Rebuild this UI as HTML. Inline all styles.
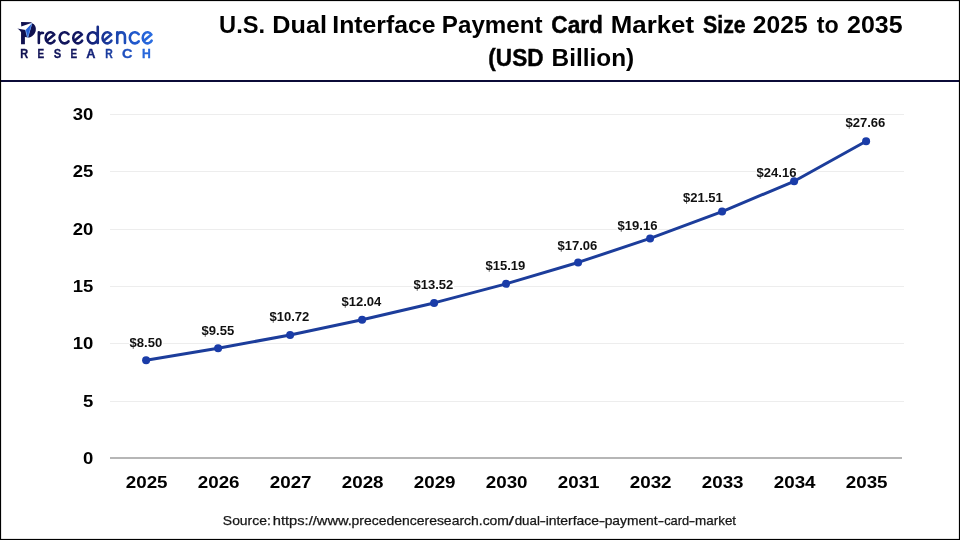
<!DOCTYPE html>
<html lang="en">
<head>
<meta charset="utf-8">
<title>U.S. Dual Interface Payment Card Market Size 2025 to 2035</title>
<style>
html,body{margin:0;padding:0;background:#fff;}
body{width:960px;height:540px;overflow:hidden;font-family:"Liberation Sans",sans-serif;}
svg{display:block;will-change:transform;}
text{font-family:"Liberation Sans",sans-serif;}
</style>
</head>
<body>
<svg width="960" height="540" viewBox="0 0 960 540">
<defs>
<linearGradient id="lg" gradientUnits="userSpaceOnUse" x1="17" y1="0" x2="154" y2="0">
<stop offset="0" stop-color="#101150"/>
<stop offset="0.45" stop-color="#121760"/>
<stop offset="0.55" stop-color="#15247c"/>
<stop offset="0.66" stop-color="#1a3a9c"/>
<stop offset="0.76" stop-color="#1c4ab4"/>
<stop offset="0.86" stop-color="#2058cc"/>
<stop offset="1" stop-color="#2c70e4"/>
</linearGradient>
</defs>
<rect x="0" y="0" width="960" height="540" fill="#ffffff"/>
<rect x="0" y="80" width="960" height="2" fill="#0b0b38"/>
<g id="logo">
<path d="M21.05,22.0 L31.75,22.3 L31.3,23.1 L21.25,26.45 Z" fill="#101150"/>
<path d="M17.2,28.5 L21.5,29.2 L25.6,29.9 L27.4,37.2 L28.0,37.6 L24.9,37.0 L24.9,44.15 L21.05,44.15 L21.05,32.3 C20.4,30.8 19,29.6 17.2,28.5 Z" fill="#101150"/>
<path d="M32.1,23.3 C34.9,24.3 36.3,27.2 35.8,30.2 C35.2,34.2 32,37.4 27.9,37.6 Z" fill="#101150"/>
<path d="M31.9,23.15 L25.55,29.95 L27.4,37.3 L28.0,37.5 L32.15,23.3 Z" fill="#2560d6"/>
<path d="M25.55,29.95 L27.4,37.3" stroke="#7fb0f2" stroke-width="0.7" fill="none"/>
<path d="M31.9,23.2 L27.8,37.3" stroke="#6fa2ee" stroke-width="0.55" fill="none"/>
<path d="M38.85,32.4 L38.85,42.9 M38.85,36.8 C38.9,33.6 40.8,32.4 43.0,33.0 M47.45,40.30 L54.33,34.62 A4.8,5.55 0 1 0 54.56,40.57 M68.52,34.23 A5.05,5.55 0 1 0 68.52,41.37 M75.05,40.30 L81.93,34.62 A4.8,5.55 0 1 0 82.16,40.57 M97.75,26.7 L97.75,42.9 M97.75,37.8 A5.0,5.55 0 1 0 97.75,37.809999999999995 M104.35,40.30 L111.23,34.62 A4.8,5.55 0 1 0 111.46,40.57 M117.25,32.4 L117.25,42.9 M117.25,36.8 C117.25,33.6 119,32.4 121.1,32.4 C123.2,32.4 124.95,33.6 124.95,36.8 L124.95,42.9 M138.72,34.23 A5.05,5.55 0 1 0 138.72,41.37 M144.55,40.30 L151.43,34.62 A4.8,5.55 0 1 0 151.66,40.57" fill="none" stroke="url(#lg)" stroke-width="2.6" stroke-linecap="round" stroke-linejoin="round"/>
<text x="0" y="57.9" font-size="12.2" font-weight="700" text-anchor="middle" fill="#101252" stroke="#101252" stroke-width="0.3" transform="translate(24.2,0) scale(0.9,1)">R</text>
<text x="0" y="57.9" font-size="12.2" font-weight="700" text-anchor="middle" fill="#111356" stroke="#111356" stroke-width="0.3" transform="translate(40.9,0) scale(0.82,1)">E</text>
<text x="0" y="57.9" font-size="12.2" font-weight="700" text-anchor="middle" fill="#11155b" stroke="#11155b" stroke-width="0.3" transform="translate(57.5,0) scale(0.92,1)">S</text>
<text x="0" y="57.9" font-size="12.2" font-weight="700" text-anchor="middle" fill="#12175f" stroke="#12175f" stroke-width="0.3" transform="translate(73.75,0) scale(0.82,1)">E</text>
<text x="0" y="57.9" font-size="12.2" font-weight="700" text-anchor="middle" fill="#152379" stroke="#152379" stroke-width="0.3" transform="translate(90.9,0) scale(1.05,1)">A</text>
<text x="0" y="57.9" font-size="12.2" font-weight="700" text-anchor="middle" fill="#1a3c9f" stroke="#1a3c9f" stroke-width="0.3" transform="translate(109.05,0) scale(0.85,1)">R</text>
<text x="0" y="57.9" font-size="12.2" font-weight="700" text-anchor="middle" fill="#1e50bf" stroke="#1e50bf" stroke-width="0.3" transform="translate(127.25,0) scale(1.19,1)">C</text>
<text x="0" y="57.9" font-size="12.2" font-weight="700" text-anchor="middle" fill="#2767db" stroke="#2767db" stroke-width="0.3" transform="translate(146.5,0) scale(1.0,1)">H</text>
</g>
<text x="219.08" y="32.5" font-size="23.6" font-weight="700" fill="#000" textLength="46.01" lengthAdjust="spacingAndGlyphs">U.S.</text>
<text x="272.3" y="32.5" font-size="23.6" font-weight="700" fill="#000" textLength="54.71" lengthAdjust="spacingAndGlyphs">Dual</text>
<text x="332.33" y="32.5" font-size="23.6" font-weight="700" fill="#000" textLength="103.25" lengthAdjust="spacingAndGlyphs">Interface</text>
<text x="441.87" y="32.5" font-size="23.6" font-weight="700" fill="#000" textLength="100.71" lengthAdjust="spacingAndGlyphs">Payment</text>
<text x="551.34" y="32.5" font-size="23.6" font-weight="700" fill="#000" stroke="#000" stroke-width="0.45" textLength="51.65" lengthAdjust="spacingAndGlyphs">Card</text>
<text x="610.75" y="32.5" font-size="23.6" font-weight="700" fill="#000" textLength="83.35" lengthAdjust="spacingAndGlyphs">Market</text>
<text x="703.11" y="32.5" font-size="23.6" font-weight="700" fill="#000" stroke="#000" stroke-width="0.45" textLength="42.6" lengthAdjust="spacingAndGlyphs">Size</text>
<text x="752.89" y="32.5" font-size="23.6" font-weight="700" fill="#000" textLength="54.74" lengthAdjust="spacingAndGlyphs">2025</text>
<text x="816.71" y="32.5" font-size="23.6" font-weight="700" fill="#000" textLength="22.0" lengthAdjust="spacingAndGlyphs">to</text>
<text x="847.13" y="32.5" font-size="23.6" font-weight="700" fill="#000" textLength="55.51" lengthAdjust="spacingAndGlyphs">2035</text>
<text x="488.37" y="65.75" font-size="23.6" font-weight="700" fill="#000" stroke="#000" stroke-width="0.45" textLength="55.07" lengthAdjust="spacingAndGlyphs">(USD</text>
<text x="551.6" y="65.75" font-size="23.6" font-weight="700" fill="#000" textLength="82.64" lengthAdjust="spacingAndGlyphs">Billion)</text>
<rect x="110" y="401" width="794" height="1" fill="#ededed"/>
<rect x="110" y="343" width="794" height="1" fill="#ededed"/>
<rect x="110" y="286" width="794" height="1" fill="#ededed"/>
<rect x="110" y="229" width="794" height="1" fill="#ededed"/>
<rect x="110" y="171" width="794" height="1" fill="#ededed"/>
<rect x="110" y="114" width="794" height="1" fill="#ededed"/>
<rect x="110" y="457" width="792" height="2" fill="#b6b6b6"/>
<text transform="translate(93.3,463.90) scale(1.09,1)" font-size="17" font-weight="700" text-anchor="end" fill="#000">0</text>
<text transform="translate(93.3,406.80) scale(1.09,1)" font-size="17" font-weight="700" text-anchor="end" fill="#000">5</text>
<text transform="translate(93.3,348.80) scale(1.09,1)" font-size="17" font-weight="700" text-anchor="end" fill="#000">10</text>
<text transform="translate(93.3,291.80) scale(1.09,1)" font-size="17" font-weight="700" text-anchor="end" fill="#000">15</text>
<text transform="translate(93.3,234.80) scale(1.09,1)" font-size="17" font-weight="700" text-anchor="end" fill="#000">20</text>
<text transform="translate(93.3,176.80) scale(1.09,1)" font-size="17" font-weight="700" text-anchor="end" fill="#000">25</text>
<text transform="translate(93.3,119.80) scale(1.09,1)" font-size="17" font-weight="700" text-anchor="end" fill="#000">30</text>
<text transform="translate(146.65,488) scale(1.105,1)" font-size="17" font-weight="700" text-anchor="middle" fill="#000">2025</text>
<text transform="translate(218.65,488) scale(1.105,1)" font-size="17" font-weight="700" text-anchor="middle" fill="#000">2026</text>
<text transform="translate(290.65,488) scale(1.105,1)" font-size="17" font-weight="700" text-anchor="middle" fill="#000">2027</text>
<text transform="translate(362.65,488) scale(1.105,1)" font-size="17" font-weight="700" text-anchor="middle" fill="#000">2028</text>
<text transform="translate(434.65,488) scale(1.105,1)" font-size="17" font-weight="700" text-anchor="middle" fill="#000">2029</text>
<text transform="translate(506.65,488) scale(1.105,1)" font-size="17" font-weight="700" text-anchor="middle" fill="#000">2030</text>
<text transform="translate(578.65,488) scale(1.105,1)" font-size="17" font-weight="700" text-anchor="middle" fill="#000">2031</text>
<text transform="translate(650.65,488) scale(1.105,1)" font-size="17" font-weight="700" text-anchor="middle" fill="#000">2032</text>
<text transform="translate(722.65,488) scale(1.105,1)" font-size="17" font-weight="700" text-anchor="middle" fill="#000">2033</text>
<text transform="translate(794.65,488) scale(1.105,1)" font-size="17" font-weight="700" text-anchor="middle" fill="#000">2034</text>
<text transform="translate(866.65,488) scale(1.105,1)" font-size="17" font-weight="700" text-anchor="middle" fill="#000">2035</text>
<rect x="128.9" y="336.6" width="34" height="14" fill="#fff"/>
<rect x="200.9" y="324.6" width="34" height="14" fill="#fff"/>
<rect x="268.6" y="310.6" width="41.5" height="14" fill="#fff"/>
<rect x="340.6" y="295.6" width="41.5" height="14" fill="#fff"/>
<rect x="412.6" y="278.6" width="41.5" height="14" fill="#fff"/>
<rect x="484.6" y="259.6" width="41.5" height="14" fill="#fff"/>
<rect x="556.6" y="238.7" width="41.5" height="14" fill="#fff"/>
<rect x="616.8" y="218.8" width="41.5" height="14" fill="#fff"/>
<rect x="682.1" y="190.9" width="41.5" height="14" fill="#fff"/>
<rect x="755.8" y="165.7" width="41.5" height="14" fill="#fff"/>
<rect x="844.6" y="116.6" width="41.5" height="14" fill="#fff"/>
<path d="M146.10,360.29 L218.10,348.29 L290.10,334.92 L362.10,319.83 L434.10,302.92 L506.10,283.83 L578.10,262.45 L650.10,238.45 L722.10,211.59 L794.10,181.30 L866.10,141.30" fill="none" stroke="#1c3d9b" stroke-width="3" stroke-linejoin="round" stroke-linecap="round"/>
<circle cx="146.10" cy="360.29" r="4" fill="#1a3ca8"/>
<circle cx="218.10" cy="348.29" r="4" fill="#1a3ca8"/>
<circle cx="290.10" cy="334.92" r="4" fill="#1a3ca8"/>
<circle cx="362.10" cy="319.83" r="4" fill="#1a3ca8"/>
<circle cx="434.10" cy="302.92" r="4" fill="#1a3ca8"/>
<circle cx="506.10" cy="283.83" r="4" fill="#1a3ca8"/>
<circle cx="578.10" cy="262.45" r="4" fill="#1a3ca8"/>
<circle cx="650.10" cy="238.45" r="4" fill="#1a3ca8"/>
<circle cx="722.10" cy="211.59" r="4" fill="#1a3ca8"/>
<circle cx="794.10" cy="181.30" r="4" fill="#1a3ca8"/>
<circle cx="866.10" cy="141.30" r="4" fill="#1a3ca8"/>
<text transform="translate(145.90,347.40) scale(1.072,1)" font-size="12.2" font-weight="700" text-anchor="middle" fill="#111">$8.50</text>
<text transform="translate(217.90,335.40) scale(1.072,1)" font-size="12.2" font-weight="700" text-anchor="middle" fill="#111">$9.55</text>
<text transform="translate(289.40,321.40) scale(1.072,1)" font-size="12.2" font-weight="700" text-anchor="middle" fill="#111">$10.72</text>
<text transform="translate(361.40,306.40) scale(1.072,1)" font-size="12.2" font-weight="700" text-anchor="middle" fill="#111">$12.04</text>
<text transform="translate(433.40,289.40) scale(1.072,1)" font-size="12.2" font-weight="700" text-anchor="middle" fill="#111">$13.52</text>
<text transform="translate(505.40,270.40) scale(1.072,1)" font-size="12.2" font-weight="700" text-anchor="middle" fill="#111">$15.19</text>
<text transform="translate(577.40,249.50) scale(1.072,1)" font-size="12.2" font-weight="700" text-anchor="middle" fill="#111">$17.06</text>
<text transform="translate(637.50,229.60) scale(1.072,1)" font-size="12.2" font-weight="700" text-anchor="middle" fill="#111">$19.16</text>
<text transform="translate(702.90,201.70) scale(1.072,1)" font-size="12.2" font-weight="700" text-anchor="middle" fill="#111">$21.51</text>
<text transform="translate(776.50,176.50) scale(1.072,1)" font-size="12.2" font-weight="700" text-anchor="middle" fill="#111">$24.16</text>
<text transform="translate(865.40,127.40) scale(1.072,1)" font-size="12.2" font-weight="700" text-anchor="middle" fill="#111">$27.66</text>
<text x="222.87" y="525.3" font-size="12.8" fill="#161616" stroke="#161616" stroke-width="0.25" textLength="47.9" lengthAdjust="spacingAndGlyphs">Source:</text>
<text x="272.72" y="525.3" font-size="12.8" fill="#161616" stroke="#161616" stroke-width="0.25" textLength="79.21" lengthAdjust="spacingAndGlyphs">https://www.</text>
<text x="351.59" y="525.3" font-size="12.8" fill="#161616" stroke="#161616" stroke-width="0.25" textLength="157.43" lengthAdjust="spacingAndGlyphs">precedenceresearch.com</text>
<text x="508.6" y="525.3" font-size="12.8" fill="#161616" stroke="#161616" stroke-width="0.25" textLength="5.51" lengthAdjust="spacingAndGlyphs">/</text>
<text x="514.73" y="525.3" font-size="12.8" fill="#161616" stroke="#161616" stroke-width="0.25" textLength="25.17" lengthAdjust="spacingAndGlyphs">dual</text>
<text x="539.43" y="525.3" font-size="12.8" fill="#161616" stroke="#161616" stroke-width="0.25" textLength="6.45" lengthAdjust="spacingAndGlyphs">-</text>
<text x="545.66" y="525.3" font-size="12.8" fill="#161616" stroke="#161616" stroke-width="0.25" textLength="53.44" lengthAdjust="spacingAndGlyphs">interface</text>
<text x="598.83" y="525.3" font-size="12.8" fill="#161616" stroke="#161616" stroke-width="0.25" textLength="6.45" lengthAdjust="spacingAndGlyphs">-</text>
<text x="604.7" y="525.3" font-size="12.8" fill="#161616" stroke="#161616" stroke-width="0.25" textLength="52.91" lengthAdjust="spacingAndGlyphs">payment</text>
<text x="657.89" y="525.3" font-size="12.8" fill="#161616" stroke="#161616" stroke-width="0.25" textLength="6.39" lengthAdjust="spacingAndGlyphs">-</text>
<text x="664.15" y="525.3" font-size="12.8" fill="#161616" stroke="#161616" stroke-width="0.25" textLength="25.06" lengthAdjust="spacingAndGlyphs">card</text>
<text x="688.83" y="525.3" font-size="12.8" fill="#161616" stroke="#161616" stroke-width="0.25" textLength="6.45" lengthAdjust="spacingAndGlyphs">-</text>
<text x="695.09" y="525.3" font-size="12.8" fill="#161616" stroke="#161616" stroke-width="0.25" textLength="41.02" lengthAdjust="spacingAndGlyphs">market</text>
<rect x="0.5" y="0.5" width="959" height="539" fill="none" stroke="#000" stroke-width="1.2"/>
</svg>
</body>
</html>
